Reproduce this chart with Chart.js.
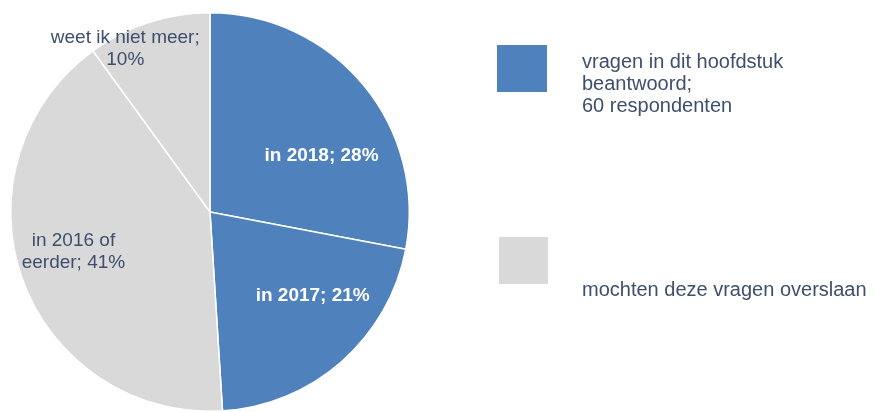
<!DOCTYPE html>
<html>
<head>
<meta charset="utf-8">
<script src="https://cdn.jsdelivr.net/npm/chart.js@4"></script>
<style>
  html, body { margin: 0; padding: 0; background: #ffffff; }
  #wrap { width: 875px; height: 412px; position: relative; }
</style>
</head>
<body>
<div id="wrap"><canvas id="pieChart"></canvas></div>
<script>
// slices, clockwise from 12 o'clock
const categories = ["in 2018", "in 2017", "in 2016 of eerder", "weet ik niet meer"];
const percentages = [28, 21, 41, 10];
const sliceLabels = [["in 2018; 28%"], ["in 2017; 21%"], ["in 2016 of", "eerder; 41%"], ["weet ik niet meer;", "10%"]];

// legend groups
const legendTexts = [["vragen in dit hoofdstuk", "beantwoord;", "60 respondenten"], ["mochten deze vragen overslaan"]];

const BLUE = "#4F81BD";
const GREY = "#D9D9D9";
const TEXT = "#3E4F6C";

// where each slice label sits: angle clockwise from top (deg) and fraction of radius
const labelPlacement = [
  { angle: 63.4, r: 0.626, color: "#ffffff", bold: true },
  { angle: 129.2, r: 0.665, color: "#ffffff", bold: true },
  { angle: 253.7, r: 0.714, color: TEXT, bold: false },
  { angle: 332.6, r: 0.924, color: TEXT, bold: false },
];

const sliceLabelPlugin = {
  id: "sliceLabels",
  afterDatasetsDraw(chart) {
    const ctx = chart.ctx;
    const arc = chart.getDatasetMeta(0).data[0];
    const cx = arc.x, cy = arc.y, R = arc.outerRadius;
    ctx.save();
    ctx.textAlign = "center";
    ctx.textBaseline = "middle";
    sliceLabels.forEach((lines, i) => {
      const p = labelPlacement[i];
      const a = (p.angle * Math.PI) / 180;
      const x = cx + Math.sin(a) * R * p.r;
      const y = cy - Math.cos(a) * R * p.r;
      ctx.fillStyle = p.color;
      ctx.font = (p.bold ? "bold " : "") + "19px 'Liberation Sans', Arial, sans-serif";
      const lh = 22;
      lines.forEach((t, j) => {
        ctx.fillText(t, x, y + (j - (lines.length - 1) / 2) * lh);
      });
    });
    ctx.restore();
  },
};

const legendPlugin = {
  id: "sideLegend",
  afterDraw(chart) {
    const ctx = chart.ctx;
    const boxes = [
      { x: 497, y: 45, w: 50, h: 47, color: BLUE, textTop: 62 },
      { x: 499, y: 237, w: 49, h: 47, color: GREY, textTop: 290 },
    ];
    ctx.save();
    ctx.font = "20px 'Liberation Sans', Arial, sans-serif";
    ctx.textAlign = "left";
    ctx.textBaseline = "middle";
    boxes.forEach((b, i) => {
      ctx.fillStyle = b.color;
      ctx.fillRect(b.x, b.y, b.w, b.h);
      ctx.fillStyle = TEXT;
      legendTexts[i].forEach((t, j) => {
        ctx.fillText(t, 582, b.textTop + j * 22);
      });
    });
    ctx.restore();
  },
};

new Chart(document.getElementById("pieChart"), {
  type: "pie",
  data: {
    labels: categories,
    datasets: [
      {
        data: percentages,
        backgroundColor: [BLUE, BLUE, GREY, GREY],
        borderColor: "#ffffff",
        borderWidth: 1.5,
      },
    ],
  },
  options: {
    responsive: true,
    maintainAspectRatio: false,
    animation: false,
    devicePixelRatio: 1,
    layout: {
      padding: { left: 10, right: 465, top: 12, bottom: 0 },
    },
    plugins: {
      legend: { display: false },
      tooltip: { enabled: false },
    },
  },
  plugins: [sliceLabelPlugin, legendPlugin],
});
</script>
</body>
</html>
